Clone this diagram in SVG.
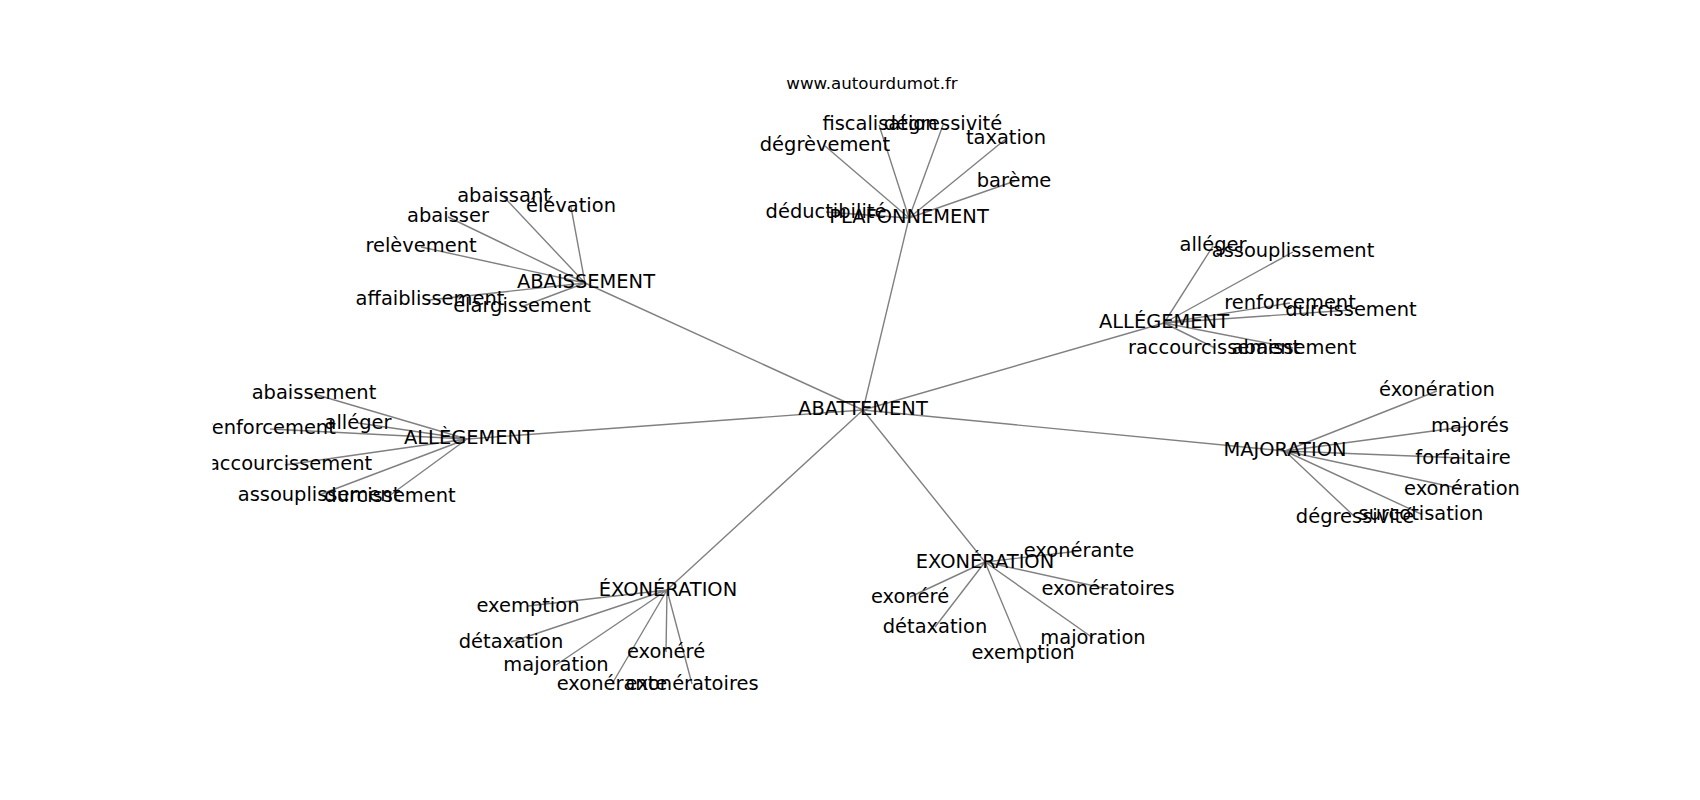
<svg xmlns="http://www.w3.org/2000/svg" width="1700" height="800" viewBox="0 0 1700 800">
<style>
.e{stroke:#808080;stroke-width:1.4;fill:none}
.n text{font-family:"DejaVu Sans",sans-serif;font-size:19.44px;fill:#000;text-anchor:middle}
.t{font-family:"DejaVu Sans",sans-serif;font-size:16.67px;fill:#000;text-anchor:middle}
</style>
<defs><clipPath id="ax"><rect x="212.5" y="96" width="1317.5" height="616"/></clipPath></defs>
<rect width="1700" height="800" fill="#fff"/>
<text class="t" x="872" y="89">www.autourdumot.fr</text>
<g id="edges" clip-path="url(#ax)">
<path class="e" d="M863 410L909 218M863 410L585 283M863 410L1164 323M863 410L467 439M863 410L1285 451M863 410L667 590M863 410L985 562"/>
<path class="e" d="M909 218L825 146M909 218L879 125M909 218L943 125M909 218L1007 138M909 218L1015 181M909 218L826 212"/>
<path class="e" d="M585 283L504 197M585 283L571 207M585 283L448 217M585 283L421 247M585 283L429 300M585 283L521 307"/>
<path class="e" d="M1164 323L1213 246M1164 323L1293 252M1164 323L1290 303M1164 323L1351 310M1164 323L1215 348M1164 323L1293 348"/>
<path class="e" d="M467 439L314 394M467 439L358 423M467 439L270 429M467 439L285 465M467 439L319 495M467 439L389 496"/>
<path class="e" d="M1285 451L1437 391M1285 451L1470 426M1285 451L1463 458M1285 451L1462 489M1285 451L1421 514M1285 451L1355 517"/>
<path class="e" d="M667 590L528 606M667 590L511 642M667 590L556 665M667 590L612 684M667 590L666 652M667 590L692 684"/>
<path class="e" d="M985 562L1079 551M985 562L1108 589M985 562L910 597M985 562L935 627M985 562L1093 638M985 562L1023 653"/>
</g>
<g clip-path="url(#ax)">
<g id="n0" class="n"><text x="863" y="415">ABATTEMENT</text></g>
<g id="n1" class="n"><text x="909" y="223">PLAFONNEMENT</text></g>
<g id="n1a" class="n"><text x="825" y="151">dégrèvement</text></g>
<g id="n1b" class="n"><text x="880" y="130">fiscalisation</text></g>
<g id="n1c" class="n"><text x="943" y="130">dégressivité</text></g>
<g id="n1d" class="n"><text x="1006" y="144">taxation</text></g>
<g id="n1e" class="n"><text x="1014" y="187">barème</text></g>
<g id="n1f" class="n"><text x="826" y="218">déductibilité</text></g>
<g id="n2" class="n"><text x="586" y="288">ABAISSEMENT</text></g>
<g id="n2a" class="n"><text x="504" y="202">abaissant</text></g>
<g id="n2b" class="n"><text x="571" y="212">élévation</text></g>
<g id="n2c" class="n"><text x="448" y="222">abaisser</text></g>
<g id="n2d" class="n"><text x="421" y="252">relèvement</text></g>
<g id="n2e" class="n"><text x="430" y="305">affaiblissement</text></g>
<g id="n2f" class="n"><text x="522" y="312">élargissement</text></g>
<g id="n3" class="n"><text x="1164" y="328">ALLÉGEMENT</text></g>
<g id="n3a" class="n"><text x="1213" y="251">alléger</text></g>
<g id="n3b" class="n"><text x="1293" y="257">assouplissement</text></g>
<g id="n3c" class="n"><text x="1290" y="309">renforcement</text></g>
<g id="n3d" class="n"><text x="1351" y="316">durcissement</text></g>
<g id="n3e" class="n"><text x="1214" y="354">raccourcissement</text></g>
<g id="n3f" class="n"><text x="1294" y="354">abaissement</text></g>
<g id="n4" class="n"><text x="469" y="444">ALLÈGEMENT</text></g>
<g id="n4a" class="n"><text x="314" y="399">abaissement</text></g>
<g id="n4b" class="n"><text x="358" y="429">alléger</text></g>
<g id="n4c" class="n"><text x="270" y="434">renforcement</text></g>
<g id="n4d" class="n"><text x="286" y="470">raccourcissement</text></g>
<g id="n4e" class="n"><text x="319" y="501">assouplissement</text></g>
<g id="n4f" class="n"><text x="390" y="502">durcissement</text></g>
<g id="n5" class="n"><text x="1285" y="456">MAJORATION</text></g>
<g id="n5a" class="n"><text x="1437" y="396">éxonération</text></g>
<g id="n5b" class="n"><text x="1470" y="432">majorés</text></g>
<g id="n5c" class="n"><text x="1463" y="464">forfaitaire</text></g>
<g id="n5d" class="n"><text x="1462" y="495">exonération</text></g>
<g id="n5e" class="n"><text x="1421" y="520">surcotisation</text></g>
<g id="n5f" class="n"><text x="1355" y="523">dégressivité</text></g>
<g id="n6" class="n"><text x="668" y="596">ÉXONÉRATION</text></g>
<g id="n6a" class="n"><text x="528" y="612">exemption</text></g>
<g id="n6b" class="n"><text x="511" y="648">détaxation</text></g>
<g id="n6c" class="n"><text x="556" y="671">majoration</text></g>
<g id="n6d" class="n"><text x="612" y="690">exonérante</text></g>
<g id="n6e" class="n"><text x="666" y="658">exonéré</text></g>
<g id="n6f" class="n"><text x="692" y="690">exonératoires</text></g>
<g id="n7" class="n"><text x="985" y="568">EXONÉRATION</text></g>
<g id="n7a" class="n"><text x="1079" y="557">exonérante</text></g>
<g id="n7b" class="n"><text x="1108" y="595">exonératoires</text></g>
<g id="n7c" class="n"><text x="910" y="603">exonéré</text></g>
<g id="n7d" class="n"><text x="935" y="633">détaxation</text></g>
<g id="n7e" class="n"><text x="1093" y="644">majoration</text></g>
<g id="n7f" class="n"><text x="1023" y="659">exemption</text></g>
</g>
</svg>
